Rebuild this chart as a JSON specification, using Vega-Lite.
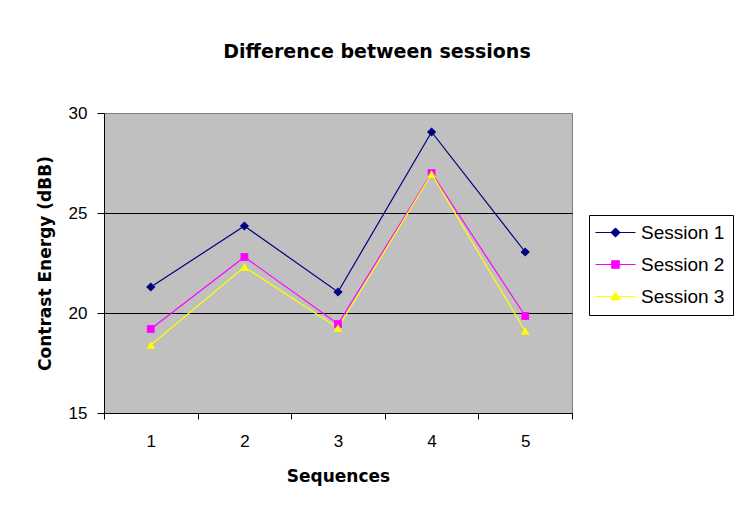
{
  "$schema": "https://vega.github.io/schema/vega-lite/v6.json",
  "width": 468,
  "height": 300,
  "autosize": "none",
  "padding": {"left": 104, "top": 113, "right": 163, "bottom": 95},
  "background": "white",
  "title": {
    "text": "Difference between sessions",
    "font": "DejaVu Sans",
    "fontSize": 19,
    "fontWeight": "bold",
    "color": "black",
    "anchor": "middle",
    "dx": 39,
    "offset": 42
  },
  "data": {
    "values": [
      {"sequence": 1, "session": "Session 1", "energy": 21.3},
      {"sequence": 2, "session": "Session 1", "energy": 24.35},
      {"sequence": 3, "session": "Session 1", "energy": 21.05},
      {"sequence": 4, "session": "Session 1", "energy": 29.05},
      {"sequence": 5, "session": "Session 1", "energy": 23.05},
      {"sequence": 1, "session": "Session 2", "energy": 19.2},
      {"sequence": 2, "session": "Session 2", "energy": 22.8},
      {"sequence": 3, "session": "Session 2", "energy": 19.45},
      {"sequence": 4, "session": "Session 2", "energy": 27.0},
      {"sequence": 5, "session": "Session 2", "energy": 19.85},
      {"sequence": 1, "session": "Session 3", "energy": 18.4},
      {"sequence": 2, "session": "Session 3", "energy": 22.3},
      {"sequence": 3, "session": "Session 3", "energy": 19.25},
      {"sequence": 4, "session": "Session 3", "energy": 26.95},
      {"sequence": 5, "session": "Session 3", "energy": 19.1}
    ]
  },
  "encoding": {
    "x": {
      "field": "sequence",
      "type": "quantitative",
      "scale": {"domain": [0.5, 5.5], "nice": false, "zero": false},
      "axis": {
        "title": "Sequences",
        "values": [0.5, 1, 1.5, 2, 2.5, 3, 3.5, 4, 4.5, 5, 5.5],
        "labelExpr": "datum.value % 1 == 0 ? '' + datum.value : ''",
        "tickOpacity": {"condition": {"test": "datum.value % 1 == 0", "value": 0}, "value": 1},
        "tickSize": 6,
        "tickColor": "black",
        "domainColor": "black",
        "grid": false,
        "labelFont": "Liberation Sans",
        "labelFontSize": 17,
        "labelColor": "black",
        "labelPadding": 14,
        "labelFlush": false,
        "labelOverlap": false,
        "titleFont": "DejaVu Sans",
        "titleFontSize": 17,
        "titleFontWeight": "bold",
        "titleColor": "black",
        "titlePadding": 19
      }
    },
    "y": {
      "field": "energy",
      "type": "quantitative",
      "scale": {"domain": [15, 30], "nice": false, "zero": false},
      "axis": {
        "title": "Contrast Energy (dBB)",
        "values": [15, 20, 25, 30],
        "tickSize": 7,
        "tickColor": "black",
        "domainColor": "black",
        "grid": true,
        "gridColor": {"condition": {"test": "datum.value == 30", "value": "#808080"}, "value": "black"},
        "gridOpacity": 1,
        "labelFont": "Liberation Sans",
        "labelFontSize": 17,
        "labelColor": "black",
        "labelPadding": 10,
        "titleFont": "DejaVu Sans",
        "titleFontSize": 17,
        "titleFontWeight": "bold",
        "titleColor": "black",
        "titlePadding": 14
      }
    },
    "color": {
      "field": "session",
      "type": "nominal",
      "scale": {"domain": ["Session 1", "Session 2", "Session 3"], "range": ["#000080", "#FF00FF", "#FFFF00"]},
      "legend": {
        "title": null,
        "orient": "none",
        "legendX": 485,
        "legendY": 102,
        "strokeColor": "black",
        "fillColor": "white",
        "padding": 8,
        "labelFont": "Liberation Sans",
        "labelFontSize": 19,
        "labelColor": "black",
        "symbolSize": 64,
        "symbolStrokeWidth": 1,
        "symbolOffset": 9,
        "labelOffset": 16,
        "rowPadding": 12,
        "encode": {
          "symbols": {
            "update": {
              "shape": [
                {"test": "datum.value === 'Session 1'", "value": "M-5,0H5M0,-1.15L1.15,0L0,1.15L-1.15,0Z"},
                {"test": "datum.value === 'Session 2'", "value": "M-5,0H5M-0.95,-0.95H0.95V0.95H-0.95Z"},
                {"value": "M-5,0H5M0,-1.15L1.1,0.85H-1.1Z"}
              ],
              "fill": {"scale": "color", "field": "value"},
              "stroke": {"scale": "color", "field": "value"},
              "strokeWidth": {"value": 1},
              "size": {"value": 64},
              "opacity": {"value": 1}
            }
          }
        }
      }
    }
  },
  "layer": [
    {"mark": {"type": "line", "strokeWidth": 1.2}},
    {
      "transform": [{"filter": "datum.session == 'Session 1'"}],
      "mark": {"type": "point", "shape": "diamond", "filled": true, "opacity": 1, "size": 85}
    },
    {
      "transform": [{"filter": "datum.session == 'Session 2'"}],
      "mark": {"type": "point", "shape": "square", "filled": true, "opacity": 1, "size": 60}
    },
    {
      "transform": [{"filter": "datum.session == 'Session 3'"}],
      "mark": {"type": "point", "shape": "triangle-up", "filled": true, "opacity": 1, "size": 75}
    }
  ],
  "config": {
    "view": {"stroke": "#808080", "fill": "#C0C0C0"}
  }
}
